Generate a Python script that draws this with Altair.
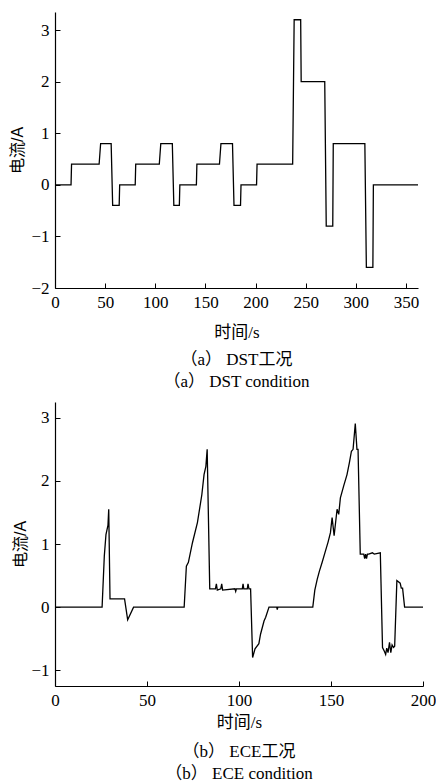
import altair as alt
import pandas as pd

# DST current profile (time s, current A)
dst_t = [0, 16, 16.5, 44, 45.5, 56, 57.5, 64, 64.5, 80, 80.5, 104, 105.5, 117, 118.5, 124, 124.5,
         141, 141.5, 164, 165.5, 177, 178.5, 185, 185.5, 201, 201.5, 237, 238.5, 245, 245.5, 269,
         270.5, 277, 277.5, 309, 310.5, 317, 317.5, 362]
dst_i = [0, 0, 0.4, 0.4, 0.8, 0.8, -0.4, -0.4, 0, 0, 0.4, 0.4, 0.8, 0.8, -0.4, -0.4, 0,
         0, 0.4, 0.4, 0.8, 0.8, -0.4, -0.4, 0, 0, 0.4, 0.4, 3.2, 3.2, 2, 2,
         -0.8, -0.8, 0.8, 0.8, -1.6, -1.6, 0, 0]

# ECE current profile
ece_t = [0, 25.6, 26.8, 27.7, 28.8, 29.2, 29.9, 37.8, 39.5, 42.7, 70.2, 71.4, 72.5, 74.7, 77.4,
         79.8, 81.0, 82.0, 82.7, 84.1, 87.2, 87.7, 88.2, 90.1, 90.6, 91.1, 97.8, 98.2, 98.6,
         101.8, 102.2, 102.6, 104.5, 104.9, 105.4, 106.3, 107.4, 108.7, 110.8, 111.7, 113.6,
         114.5, 116.3, 120.5, 120.8, 121.1, 140.1, 141.2, 142.5, 143.7, 145.2, 147.0, 148.4,
         149.7, 150.6, 151.7, 153.3, 154.2, 155.1, 156.9, 158.7, 160.0, 161.1, 162.0, 163.2,
         164.1, 164.7, 165.9, 167.8, 168.3, 168.8, 169.3, 169.8, 170.5, 172.5, 173.5, 176.8,
         178.0, 179.0, 179.7, 180.3, 181.0, 181.8, 182.5, 183.2, 184.0, 184.6, 185.8, 187.6,
         188.2, 188.9, 190.0, 200]
ece_i = [0, 0, 0.81, 1.15, 1.3, 1.55, 0.13, 0.13, -0.2, 0, 0, 0.65, 0.71, 1.02, 1.34,
         1.78, 2.1, 2.23, 2.5, 0.29, 0.29, 0.37, 0.27, 0.29, 0.37, 0.27, 0.29, 0.25, 0.29,
         0.29, 0.37, 0.29, 0.29, 0.37, 0.29, 0.29, -0.8, -0.66, -0.58, -0.43, -0.22,
         -0.16, 0, 0, -0.04, 0, 0, 0.27, 0.44, 0.57, 0.71, 0.89, 1.03,
         1.18, 1.42, 1.13, 1.55, 1.47, 1.73, 1.92, 2.1, 2.29, 2.47, 2.5, 2.91,
         2.5, 2.5, 0.84, 0.84, 0.77, 0.84, 0.77, 0.84, 0.84, 0.86, 0.84, 0.86,
         -0.64, -0.7, -0.75, -0.65, -0.72, -0.56, -0.72, -0.6, -0.64, -0.62, 0.42, 0.38,
         0.3, 0.3, 0, 0]

dst_xticks = [0, 50, 100, 150, 200, 250, 300, 350]
dst_yticks = [-2, -1, 0, 1, 2, 3]
ece_xticks = [0, 50, 100, 150, 200]
ece_yticks = [-1, 0, 1, 2, 3]

x_title = "时间/s"
y_title = "电流/A"
cap_a = ["（a） DST工况", "（a） DST condition"]
cap_b = ["（b） ECE工况", "（b） ECE condition"]

SERIF = "'Liberation Serif', 'Times New Roman', 'Noto Sans CJK SC', serif"
SANS = "'Liberation Sans', Arial, 'Noto Sans CJK SC', sans-serif"


def panel(t, i, xdom, ydom, xt, yt, w, h, cap, xtp, ytp, cap_off):
    df = pd.DataFrame({"t": t, "i": i})
    return alt.Chart(df).mark_line(color="black", strokeWidth=1.3).encode(
        x=alt.X("t:Q", scale=alt.Scale(domain=xdom, nice=False, zero=False),
                axis=alt.Axis(values=xt, title=x_title, format="d",
                              titleFont=SERIF, titleFontSize=17, titleFontWeight="normal",
                              titlePadding=xtp)),
        y=alt.Y("i:Q", scale=alt.Scale(domain=ydom, nice=False, zero=False),
                axis=alt.Axis(values=yt, title=y_title, format="d",
                              titleFont=SANS, titleFontSize=16, titleFontWeight="normal",
                              titlePadding=ytp)),
    ).properties(
        width=w, height=h,
        title=alt.Title(cap, orient="bottom", font=SERIF, fontSize=17,
                        fontWeight="normal", lineHeight=22, offset=cap_off, color="black"),
    )


top = panel(dst_t, dst_i, [0, 362], [-2, 3.35], dst_xticks, dst_yticks, 363, 276, cap_a,
            14, 5, 12)
bot = panel(ece_t, ece_i, [0, 200], [-1.25, 3.25], ece_xticks, ece_yticks, 368, 284, cap_b,
            6, 2, 14)

chart = alt.concat(top, bot, columns=1, spacing=12, align="none").properties(
    padding={"left": 1, "top": 4, "right": 0, "bottom": 0}
).configure_view(stroke=None).configure_axis(
    domainColor="black", domainWidth=1.2, tickColor="black", tickWidth=1,
    tickSize=alt.ExprRef("-5"), labelFont=SERIF, labelFontSize=17,
    labelColor="black", titleColor="black", labelPadding=11, grid=False,
).configure_axisX(labelFlush=False).configure_axisY(labelFlush=False)

chart.save("out.html", embed_options={"renderer": "svg", "actions": False})
